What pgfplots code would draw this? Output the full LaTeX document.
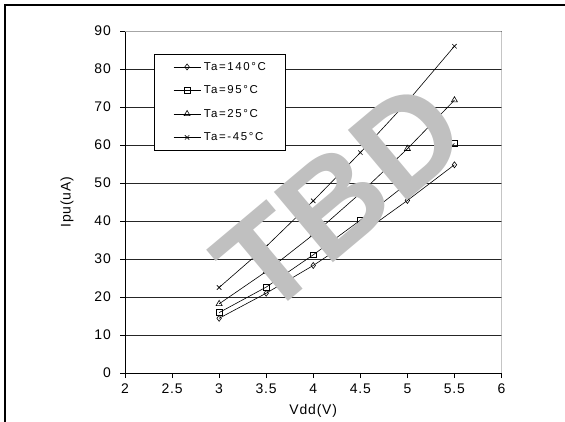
\documentclass[border=0pt]{standalone}
\usepackage{fontspec}
\setmainfont{Liberation Sans}
\newfontfamily\tickfont[LetterSpace=6]{Liberation Sans}
\newfontfamily\labfont[LetterSpace=6]{Liberation Sans}
\newfontfamily\legfont[LetterSpace=14]{Liberation Sans}
\usepackage{pgfplots}
\pgfplotsset{compat=1.18}
\definecolor{wmgray}{RGB}{192,192,192}
\begin{document}
\begin{tikzpicture}
\path[use as bounding box] (0bp,0bp) rectangle (565bp,422bp);
\draw[line width=2bp] (5bp,0bp) -- (5bp,417bp) -- (565bp,417bp);
\begin{axis}[
  at={(125bp,49bp)}, anchor=south west,
  scale only axis, width=376.5bp, height=342bp,
  xmin=2, xmax=6, ymin=0, ymax=90,
  xtick={2,2.5,3,3.5,4,4.5,5,5.5,6}, ytick={0,10,...,90},
  axis x line*=bottom, axis y line*=left,
  axis line style={black, line width=0.7bp},
  tick align=outside, major tick length=5bp,
  tick style={black, line width=0.6bp},
  ymajorgrids, grid style={black!85, line width=0.6bp},
  /pgf/number format/assume math mode=true,
  xticklabel style={font=\tickfont\fontsize{14}{16}\selectfont, inner ysep=6bp},
  yticklabel style={font=\tickfont\fontsize{14}{16}\selectfont, inner xsep=9bp},
  xlabel={Vdd(V)}, ylabel={Ipu(uA)},
  xlabel style={font=\labfont\fontsize{14}{16}\selectfont, at={(axis description cs:0.5,-0.111)}, anchor=center},
  ylabel style={font=\labfont\fontsize{14}{16}\selectfont, at={(axis description cs:-0.154,0.5)}, anchor=center},
  legend style={at={(axis description cs:0.077,0.933)}, anchor=north west,
    draw=black, fill=white, line width=0.6bp,
    font=\legfont\fontsize{11.5}{12}\selectfont,
    inner xsep=19bp, inner ysep=8bp, row sep=14bp, column sep=3bp,
    nodes={inner sep=0pt}},
  legend cell align=left,
  legend image code/.code={\draw[mark repeat=2,mark phase=2,#1] plot coordinates {(0bp,0bp) (13.5bp,0bp) (27bp,0bp)};},
  every axis plot/.append style={black, line width=0.6bp, mark options={solid, line width=0.6bp}},
]
\addplot[mark=diamond, mark size=3bp] coordinates {(3,14.4) (3.5,21.0) (4,28.3) (4.5,36.5) (5,45.4) (5.5,54.8)};
\addlegendentry{Ta=140°C}
\addplot[mark=square, mark size=2.9bp] coordinates {(3,15.9) (3.5,22.6) (4,31.1) (4.5,40.2) (5,49.9) (5.5,60.4)};
\addlegendentry{Ta=95°C}
\addplot[mark=triangle, mark size=3.5bp] coordinates {(3,18.2) (3.5,26.7) (4,36.4) (4.5,47.3) (5,59.0) (5.5,71.8)};
\addlegendentry{Ta=25°C}
\addplot[mark=x, mark size=3.1bp] coordinates {(3,22.5) (3.5,33.3) (4,45.3) (4.5,58.0) (5,71.4) (5.5,86.0)};
\addlegendentry{Ta=-45°C}
\draw[gray!70, line width=0.8bp] (rel axis cs:0,1) -- (rel axis cs:1,1) -- (rel axis cs:1,0);
\end{axis}
\node[rotate=40, text=wmgray, font=\fontsize{134}{134}\bfseries\selectfont, inner sep=0pt] at (340bp,224bp) {TBD};
\end{tikzpicture}
\end{document}
